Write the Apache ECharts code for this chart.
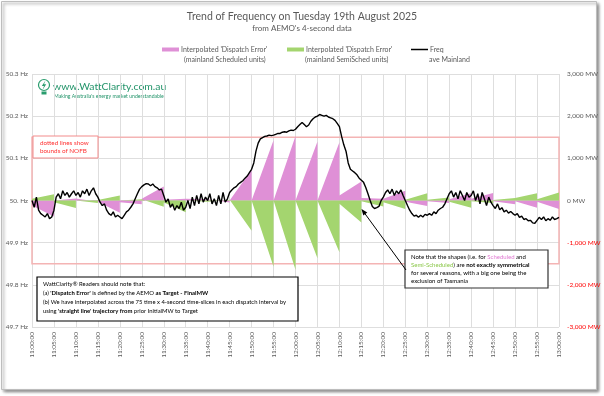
<!DOCTYPE html>
<html>
<head>
<meta charset="utf-8">
<script src="https://cdn.jsdelivr.net/npm/echarts@6/dist/echarts.min.js"></script>
<style>
html, body { margin: 0; padding: 0; background: #fff; }
#chart { width: 604px; height: 396px; }
</style>
</head>
<body>
<div id="chart"></div>
<script>
// x axis is minutes after 11:00:00, one tick every 5 min
const timeLabels = ['11:00:00', '11:05:00', '11:10:00', '11:15:00', '11:20:00', '11:25:00', '11:30:00',
    '11:35:00', '11:40:00', '11:45:00', '11:50:00', '11:55:00', '12:00:00', '12:05:00', '12:10:00',
    '12:15:00', '12:20:00', '12:25:00', '12:30:00', '12:35:00', '12:40:00', '12:45:00', '12:50:00',
    '12:55:00', '13:00:00']
const freqTickLabels = ['49.7 Hz', '49.8 Hz', '49.9 Hz', '50. Hz', '50.1 Hz', '50.2 Hz', '50.3 Hz']
const mwTickLabels = ['-3,000 MW', '-2,000 MW', '-1,000 MW', '0 MW', '1,000 MW', '2,000 MW', '3,000 MW']

// NOFB band (Hz)
const nofbUpper = 50.15
const nofbLower = 49.85

// average mainland frequency, one value every 30 s (10 per row = 5 min)
const freqHz = [
    50.000, 49.984, 50.008, 49.977, 49.969, 49.965, 49.961, 49.969, 49.957, 49.961,
    49.977, 50.008, 50.016, 50.004, 50.023, 50.012, 50.019, 50.008, 50.016, 50.023,
    50.012, 50.019, 50.008, 50.023, 50.016, 50.027, 50.012, 50.023, 50.030, 50.016,
    50.008, 49.996, 49.988, 49.992, 49.977, 49.969, 49.965, 49.973, 49.961, 49.965,
    49.961, 49.957, 49.965, 49.973, 49.977, 49.984, 49.992, 50.004, 50.016, 50.027,
    50.033, 50.037, 50.040, 50.039, 50.035, 50.039, 50.033, 50.030, 50.025, 50.027,
    50.012, 49.996, 50.004, 49.984, 49.992, 49.977, 49.988, 49.981, 49.996, 49.977,
    49.984, 50.000, 49.981, 50.008, 49.988, 50.012, 49.992, 50.016, 49.996, 50.008,
    50.000, 50.016, 49.992, 50.004, 49.988, 50.012, 49.992, 50.019, 49.996, 50.004,
    50.019, 50.025, 50.030, 50.033, 50.039, 50.043, 50.047, 50.053, 50.058, 50.066,
    50.074, 50.089, 50.117, 50.136, 50.146, 50.149, 50.152, 50.153, 50.155, 50.154,
    50.155, 50.157, 50.159, 50.159, 50.162, 50.163, 50.162, 50.165, 50.167, 50.166,
    50.169, 50.175, 50.180, 50.185, 50.180, 50.175, 50.179, 50.188, 50.194, 50.198,
    50.200, 50.204, 50.202, 50.200, 50.202, 50.198, 50.196, 50.194, 50.190, 50.183,
    50.175, 50.152, 50.132, 50.117, 50.089, 50.074, 50.070, 50.066, 50.061, 50.053,
    50.048, 50.043, 50.031, 50.016, 50.000, 49.986, 49.981, 49.983, 49.986, 50.000,
    50.008, 50.019, 50.025, 50.016, 50.027, 50.012, 50.023, 50.016, 50.025, 50.012,
    50.000, 49.988, 49.977, 49.969, 49.963, 49.965, 49.960, 49.965, 49.961, 49.967,
    49.965, 49.969, 49.965, 49.973, 49.969, 49.977, 49.981, 49.984, 49.992, 50.004,
    50.016, 50.023, 50.008, 50.019, 50.004, 50.023, 50.012, 50.000, 50.019, 50.008,
    50.012, 50.023, 50.000, 50.016, 49.992, 50.019, 50.004, 49.988, 50.008, 49.996,
    49.988, 49.981, 49.992, 49.978, 49.983, 49.973, 49.977, 49.970, 49.974, 49.969,
    49.965, 49.969, 49.960, 49.963, 49.955, 49.957, 49.952, 49.953, 49.947, 49.946,
    49.953, 49.960, 49.955, 49.961, 49.952, 49.957, 49.953, 49.961, 49.955, 49.957,
    49.960
]

// interpolated dispatch error (MW) at start / end of each 5-min interval
const schedStart = [-120, 0, 20, -20, -40, 40, 20, 10, 0, 0, 0, 0, 0, 0, 120, 60, 40, -30, -20, 30, 40, -20, -20, -30]
const schedEnd = [-380, 50, -30, -290, -90, 330, 40, 30, -50, 730, 1430, 1530, 1400, 1380, 450, 40, 230, -130, -60, 170, 180, -90, -170, -200]
const semiStart = [40, -40, 0, 10, 0, 0, -50, 0, 0, 0, 0, 0, 0, 0, -80, -20, -40, 20, 20, -30, -20, 10, 20, 30]
const semiEnd = [150, -180, -60, 120, 30, -150, -280, -30, 20, -720, -1570, -1640, -1370, -1230, -520, -140, -200, 170, 70, -170, -60, 60, 170, 190]

const pink = '#df90d6'
const green = '#a4d56f'
const grey = '#595959'
const font = 'Lato'

const sawtooth = (starts, ends) => {
    const pts = []
    starts.forEach((s, i) => {
        pts.push([i * 5, s])
        pts.push([i * 5 + 5, ends[i]])
    })
    return pts
}

const chart = echarts.init(document.getElementById('chart'))

chart.setOption({
    animation: false,
    textStyle: { fontFamily: font },
    title: {
        text: 'Trend of Frequency on Tuesday 19th August 2025',
        subtext: "from AEMO's 4-second data",
        left: 'center',
        top: 6,
        itemGap: 2,
        textStyle: { fontSize: 10.5, fontWeight: 'normal', color: grey, fontFamily: font },
        subtextStyle: { fontSize: 8, color: grey, fontFamily: font }
    },
    legend: [
        {
            data: [{ name: "Interpolated 'Dispatch Error'\n(mainland Scheduled units)", icon: 'rect' }],
            left: 162, top: 46, padding: 0, itemWidth: 17, itemHeight: 4, itemGap: 2,
            formatter: name => name.split('\n')[0],
            textStyle: { fontSize: 7, color: grey, fontFamily: font, padding: [0, 0, 0, -3] }
        },
        {
            data: [{ name: "Interpolated 'Dispatch Error'\n(mainland SemiSched units)", icon: 'rect' }],
            left: 287, top: 46, padding: 0, itemWidth: 17, itemHeight: 4, itemGap: 2,
            formatter: name => name.split('\n')[0],
            textStyle: { fontSize: 7, color: grey, fontFamily: font, padding: [0, 0, 0, -3] }
        },
        {
            data: [{ name: 'Freq\nave Mainland', icon: 'rect' }],
            left: 411, top: 46, padding: 0, itemWidth: 17, itemHeight: 1.5, itemGap: 2,
            formatter: name => name.split('\n')[0],
            textStyle: { fontSize: 7, color: grey, fontFamily: font, padding: [0, 0, 0, -3] }
        }
    ],
    grid: { left: 32, right: 45, top: 74, bottom: 69, containLabel: false },
    xAxis: {
        type: 'value',
        min: 0,
        max: 120,
        interval: 5,
        axisLine: { lineStyle: { color: '#d9d9d9' } },
        axisTick: { show: true, length: 3, lineStyle: { color: '#d9d9d9' } },
        splitLine: { show: true, lineStyle: { color: '#dedede', width: 1 } },
        axisLabel: {
            rotate: 90,
            margin: 5,
            fontSize: 6.5,
            color: grey,
            formatter: v => timeLabels[Math.round(v / 5)]
        }
    },
    yAxis: [
        {
            type: 'value',
            min: 49.7,
            max: 50.3,
            interval: 0.1,
            axisLine: { show: false },
            axisTick: { show: false },
            splitLine: { show: true, lineStyle: { color: '#dedede', width: 1 } },
            axisLabel: {
                margin: 4,
                fontSize: 6.5,
                color: grey,
                formatter: v => freqTickLabels[Math.round((v - 49.7) / 0.1)]
            }
        },
        {
            type: 'value',
            min: -3000,
            max: 3000,
            interval: 1000,
            axisLine: { show: false },
            axisTick: { show: false },
            splitLine: { show: false },
            axisLabel: {
                margin: 8,
                fontSize: 6.5,
                color: v => (v < 0 ? '#ff0000' : grey),
                formatter: v => mwTickLabels[Math.round((v + 3000) / 1000)]
            }
        }
    ],
    series: [
        {
            name: "Interpolated 'Dispatch Error'\n(mainland Scheduled units)",
            type: 'line',
            yAxisIndex: 1,
            data: sawtooth(schedStart, schedEnd),
            color: pink,
            showSymbol: false,
            lineStyle: { width: 0 },
            areaStyle: { color: pink, opacity: 1 },
            z: 1
        },
        {
            name: "Interpolated 'Dispatch Error'\n(mainland SemiSched units)",
            type: 'line',
            yAxisIndex: 1,
            data: sawtooth(semiStart, semiEnd),
            color: green,
            showSymbol: false,
            lineStyle: { width: 0 },
            areaStyle: { color: green, opacity: 1 },
            z: 1
        },
        {
            name: 'Freq\nave Mainland',
            type: 'line',
            yAxisIndex: 0,
            data: freqHz.map((v, i) => [i * 0.5, v]),
            color: '#000',
            showSymbol: false,
            lineStyle: { color: '#000', width: 1.4 },
            z: 3,
            markArea: {
                silent: true,
                itemStyle: { color: 'rgba(0,0,0,0)', borderColor: '#f4b4b4', borderWidth: 1.5 },
                data: [[{ xAxis: 0, yAxis: nofbUpper }, { xAxis: 120, yAxis: nofbLower }]]
            }
        }
    ],
    graphic: [
        // frame round the picture
        {
            type: 'rect', z: -1, silent: true,
            shape: { x: 1.5, y: 1.5, width: 595, height: 388 },
            style: { fill: '#fff', stroke: '#bdbdbd', lineWidth: 1, shadowBlur: 3, shadowOffsetX: 2, shadowOffsetY: 2, shadowColor: 'rgba(0,0,0,0.45)' }
        },
        // second lines of the legend
        { type: 'text', x: 184, y: 56, style: { text: '(mainland Scheduled units)', fontSize: 7, fontFamily: font, fill: grey } },
        { type: 'text', x: 305, y: 56, style: { text: '(mainland SemiSched units)', fontSize: 7, fontFamily: font, fill: grey } },
        { type: 'text', x: 429, y: 56, style: { text: 'ave Mainland', fontSize: 7, fontFamily: font, fill: grey } },
        // WattClarity logo
        { type: 'circle', shape: { cx: 44, cy: 85, r: 5.5 }, style: { fill: 'none', stroke: '#2a9d6e', lineWidth: 1.2 } },
        { type: 'polygon', shape: { points: [[45.5, 80.5], [41.8, 86], [44, 86], [42.5, 90], [46.2, 84.3], [44, 84.3]] }, style: { fill: '#2a9d6e' } },
        { type: 'rect', shape: { x: 41.5, y: 91.5, width: 5, height: 3 }, style: { fill: '#2a9d6e' } },
        { type: 'text', x: 53, y: 82, style: { text: 'www.WattClarity.com.au', fontSize: 10.4, fontFamily: font, fill: '#23946a' } },
        { type: 'text', x: 54, y: 94, style: { text: "Making Australia's energy market understandable", fontSize: 5.1, fontFamily: font, fill: '#23946a' } },
        // NOFB note
        {
            type: 'rect', shape: { x: 33, y: 136, width: 65, height: 22 },
            style: { fill: '#fff', stroke: '#f28b8b', lineWidth: 1 }, z: 5
        },
        {
            type: 'text', x: 40, y: 139, z: 6,
            style: { text: 'dotted lines show\nbounds of NOFB', fontSize: 6.3, lineHeight: 8, fontFamily: font, fill: '#ff3030' }
        },
        // reader note
        {
            type: 'rect', shape: { x: 37, y: 277, width: 261, height: 44 },
            style: { fill: '#fff', stroke: '#000', lineWidth: 1.2 }, z: 5
        },
        {
            type: 'text', x: 43, y: 280, z: 6,
            style: {
                text: [
                    '{n|WattClarity® Readers should note that:}',
                    "{n|(a) }{b|'Dispatch Error'}{n| is defined by the AEMO }{b|as Target - FinalMW}",
                    '{n|(b) We have interpolated across the 75 time x 4-second time-slices in each dispatch interval by}',
                    "{n|using }{b|'straight line' trajectory from}{n| prior InitialMW to Target}"
                ].join('\n'),
                rich: {
                    n: { fontSize: 5.9, lineHeight: 9, fontFamily: font, fill: '#000' },
                    b: { fontSize: 5.9, lineHeight: 9, fontFamily: font, fill: '#000', fontWeight: 'bold' }
                }
            }
        },
        // symmetry note
        {
            type: 'rect', shape: { x: 405, y: 250, width: 143, height: 38 },
            style: { fill: '#fff', stroke: '#333', lineWidth: 1.2 }, z: 5
        },
        {
            type: 'text', x: 411, y: 253, z: 6,
            style: {
                text: [
                    '{n|Note that the shapes (i.e. for }{p|Scheduled}{n| and}',
                    '{g|Semi-Scheduled}{n|) are }{b|not exactly symmetrical}',
                    '{n|for several reasons, with a big one being the}',
                    '{n|exclusion of Tasmania}'
                ].join('\n'),
                rich: {
                    n: { fontSize: 6, lineHeight: 8, fontFamily: font, fill: '#000' },
                    p: { fontSize: 6, lineHeight: 8, fontFamily: font, fill: '#e07ad2' },
                    g: { fontSize: 6, lineHeight: 8, fontFamily: font, fill: '#8cc84b' },
                    b: { fontSize: 6, lineHeight: 8, fontFamily: font, fill: '#000', fontWeight: 'bold' }
                }
            }
        },
        // arrow to the 12:10 interval
        { type: 'line', z: 6, shape: { x1: 406, y1: 270, x2: 363, y2: 211 }, style: { stroke: '#000', lineWidth: 1 } },
        { type: 'polygon', z: 6, shape: { points: [[361.5, 209], [367.3, 212.6], [363.3, 215.5]] }, style: { fill: '#000' } }
    ]
})
</script>
</body>
</html>
